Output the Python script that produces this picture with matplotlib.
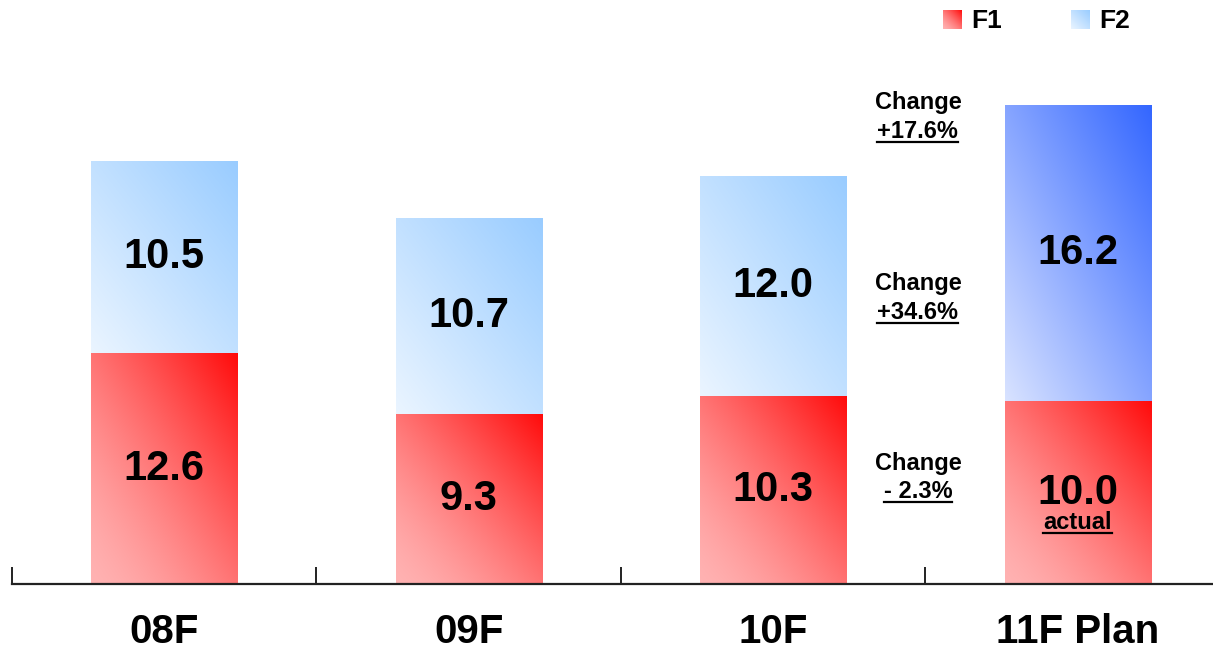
import numpy as np
import matplotlib
matplotlib.use("Agg")
import matplotlib.pyplot as plt
from matplotlib.lines import Line2D

plt.rcParams['font.family'] = ['Liberation Sans', 'DejaVu Sans']
plt.rcParams['font.weight'] = 'bold'

categories = ['08F', '09F', '10F', '11F Plan']
f1_values = [12.6, 9.3, 10.3, 10.0]
f2_values = [10.5, 10.7, 12.0, 16.2]
series_names = ['F1', 'F2']
change_labels = [('Change', '+17.6%'), ('Change', '+34.6%'), ('Change', '- 2.3%')]
change_y = [26.3, 16.4, 6.6]
note_label = 'actual'

# gradient endpoints: (light bottom-left, dark top-right, easing exponent)
F1_COLORS = ((1.0, 0.70, 0.70), (1.0, 0.04, 0.04), 1.4)
F2_COLORS = ((0.92, 0.96, 1.0), (0.60, 0.80, 1.0), 1.0)
F2_PLAN_COLORS = ((0.85, 0.89, 1.0), (0.20, 0.40, 1.0), 1.0)

W, H, DPI = 1213, 653, 100
fig = plt.figure(figsize=(W / DPI, H / DPI), dpi=DPI)
px_per_unit = 18.3
ax_left, ax_bottom, ax_top = 12, 584, 20
ax = fig.add_axes([ax_left / W, (H - ax_bottom) / H, 4 * 304.5 / W, (ax_bottom - ax_top) / H])
ymax = (ax_bottom - ax_top) / px_per_unit


def gradient(light, dark, gamma, n=200):
    u = np.linspace(0, 1, n)
    uu, vv = np.meshgrid(u, u)
    t = ((uu + vv) / 2.0) ** gamma
    light = np.array(light)
    dark = np.array(dark)
    return light[None, None, :] + (dark - light)[None, None, :] * t[..., None]


def fill_gradient(axes, patch, light, dark, gamma):
    x0, y0 = patch.get_x(), patch.get_y()
    x1, y1 = x0 + patch.get_width(), y0 + patch.get_height()
    im = axes.imshow(gradient(light, dark, gamma), extent=[x0, x1, y0, y1], origin='lower',
                     aspect='auto', interpolation='bilinear', zorder=1)
    im.set_clip_path(patch)


x = np.arange(len(categories)) + 0.5
bar_w = 0.48
bars1 = ax.bar(x, f1_values, width=bar_w, facecolor='none', edgecolor='none', zorder=2)
bars2 = ax.bar(x, f2_values, width=bar_w, bottom=f1_values, facecolor='none',
               edgecolor='none', zorder=2)

for p in bars1:
    fill_gradient(ax, p, *F1_COLORS)
for i, p in enumerate(bars2):
    cols = F2_PLAN_COLORS if i == len(categories) - 1 else F2_COLORS
    fill_gradient(ax, p, *cols)

ax.set_xlim(0, 4)
ax.set_ylim(0, ymax)

# value labels centred in each segment
for i in range(len(categories)):
    ax.text(x[i], f1_values[i] / 2, f'{f1_values[i]:.1f}', ha='center', va='center',
            fontsize=30, fontweight='bold', zorder=3)
    ax.text(x[i], f1_values[i] + f2_values[i] / 2, f'{f2_values[i]:.1f}', ha='center',
            va='center', fontsize=30, fontweight='bold', zorder=3)

underlined = []
note = ax.text(x[3], f1_values[3] / 2 - 1.65, note_label, ha='center', va='center',
               fontsize=17, fontweight='bold', zorder=3)
underlined.append(note)

cx = 2.975
for (head, val), yc in zip(change_labels, change_y):
    ax.text(cx, yc, head, ha='center', va='center', fontsize=17, fontweight='bold')
    t = ax.text(cx, yc - 1.55, val, ha='center', va='center', fontsize=17, fontweight='bold')
    underlined.append(t)

# axis styling
for s in ['top', 'right', 'left']:
    ax.spines[s].set_visible(False)
ax.spines['bottom'].set_linewidth(1.6)
ax.spines['bottom'].set_color('#222222')
ax.set_yticks([])
ax.set_xticks([0, 1, 2, 3])
ax.set_xticklabels([])
ax.tick_params(axis='x', which='major', direction='in', length=12, width=1.4, color='#222222')
ax.set_xticks(x, minor=True)
ax.set_xticklabels(categories, minor=True, fontsize=29, fontweight='bold')
ax.tick_params(axis='x', which='minor', length=0, pad=21)

# legend with gradient swatches
legend_items = [(943, series_names[0], F1_COLORS), (1071, series_names[1], F2_COLORS)]
for lx, name, cols in legend_items:
    sw = fig.add_axes([lx / W, (H - 29) / H, 19 / W, 19 / H])
    sw.imshow(gradient(*cols), origin='lower', aspect='auto', extent=[0, 1, 0, 1])
    sw.axis('off')
    fig.text((lx + 28) / W, (H - 21) / H, name, ha='left', va='center', fontsize=19,
             fontweight='bold')

# underline selected labels
fig.canvas.draw()
renderer = fig.canvas.get_renderer()
for t in underlined:
    bb = t.get_window_extent(renderer)
    yline = bb.y0 + 1
    fig.add_artist(Line2D([bb.x0 / W, bb.x1 / W], [yline / H, yline / H],
                          transform=fig.transFigure, color='black', linewidth=1.6))

fig.savefig('out.png', dpi=DPI)
